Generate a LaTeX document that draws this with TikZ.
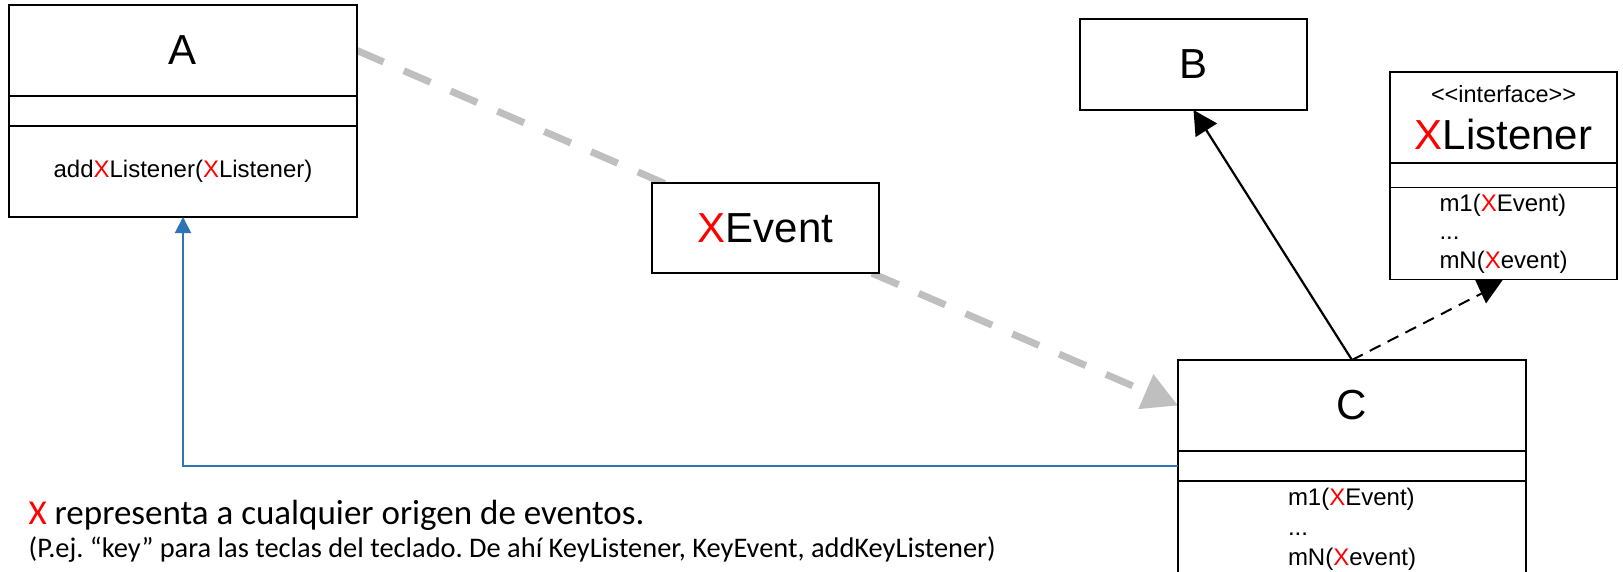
\documentclass[tikz,border=0pt]{standalone}
\usepackage{fontspec}
\setmainfont{Liberation Sans}
\newfontfamily\notefont{Carlito}
\usetikzlibrary{positioning,arrows.meta}
\pgfdeclarelayer{back}
\pgfsetlayers{back,main}
\definecolor{evgray}{RGB}{191,191,191}
\definecolor{linkblue}{RGB}{46,117,182}
\newcommand{\redx}{\textcolor{red}{X}}
\frenchspacing

\begin{document}
\begin{tikzpicture}[x=1pt,y=-1pt]
        \useasboundingbox (0,0) rectangle (1623,571);
        \tikzstyle{every path}=[line width=1.3pt]

        \tikzstyle{box}=[draw,fill=white,inner sep=0pt,outer sep=0pt]
        \tikzstyle{wide}=[box,minimum width=348pt]
        \tikzstyle{narrow}=[box,minimum width=227pt]
        \tikzstyle{title}=[minimum height=91pt,font=\fontsize{42}{50}\selectfont]
        \tikzstyle{attr}=[minimum height=30pt]
        \tikzstyle{meth}=[minimum height=91pt,align=left,font=\fontsize{24}{28.5}\selectfont]
        \tikzstyle{note}=[anchor=base west,inner sep=0pt]

        % class A
        \node [wide,title,anchor=north west] (A) at (9,5) {A};
        \node [wide,attr,below=0pt of A] (A-attr) {};
        \node [wide,meth,below=0pt of A-attr] (A-meth) {add\redx Listener(\redx Listener)};

        % class B
        \node [narrow,title,anchor=north west] (B) at (1080,19) {B};

        % interface
        \node [narrow,title,align=center,font=\fontsize{42}{47}\selectfont,anchor=north west] (XL) at (1390,72)
            {{\fontsize{23.5}{26}\selectfont <\kern0pt<interface>\kern0pt>}\\\redx Listener};
        \node [narrow,attr,minimum height=24.5pt,below=0pt of XL] (XL-attr) {};
        \node [narrow,meth,minimum height=92pt,below=0pt of XL-attr] (XL-meth) {m1(\redx Event)\\...\\mN(\redx event)};

        % class C
        \node [wide,title,anchor=north west] (C) at (1178,360) {C};
        \node [wide,attr,below=0pt of C] (C-attr) {};
        \node [wide,meth,font=\fontsize{24}{30}\selectfont,minimum height=97pt,below=0pt of C-attr] (C-meth) {m1(\redx Event)\\...\\mN(\redx event)};

        % event
        \node [narrow,title,minimum height=90pt,anchor=north west] (XE) at (652,183) {\redx Event};

        % connectors
        \begin{pgfonlayer}{back}
        \draw [evgray,line width=7pt,dash pattern=on 29pt off 22pt,-{Triangle[length=35pt,width=36pt]}] (A.east) -- (C.west);
        \end{pgfonlayer}
        \draw [line width=2.2pt,-{Triangle[length=24pt,width=25pt]}] (C.north) -- (B.south);
        \coordinate (tip) at ([xshift=-22pt,yshift=-14pt]XL-meth.south);
        \draw [line width=2pt,dash pattern=on 12pt off 8pt] (C.north) -- (tip);
        \fill ([xshift=-28.5pt]XL-meth.south) -- ([xshift=-0.5pt]XL-meth.south) -- ([xshift=-17.5pt,yshift=-24pt]XL-meth.south) -- cycle;
        \draw [linkblue,line width=2pt,-{Triangle[length=16pt,width=16pt]}] (C-attr.west) -| (A-meth.south);

        %note below
        \node [note,font=\notefont\fontsize{35}{38}\selectfont] (note1) at (28,524) {\redx{} representa a cualquier origen de eventos.};
        \node [note,font=\notefont\fontsize{28.4}{32}\selectfont] (note2) at (28,557) {(P.ej. “key” para las teclas del teclado. De ahí KeyListener, KeyEvent, addKeyListener)};
\end{tikzpicture}
\end{document}
